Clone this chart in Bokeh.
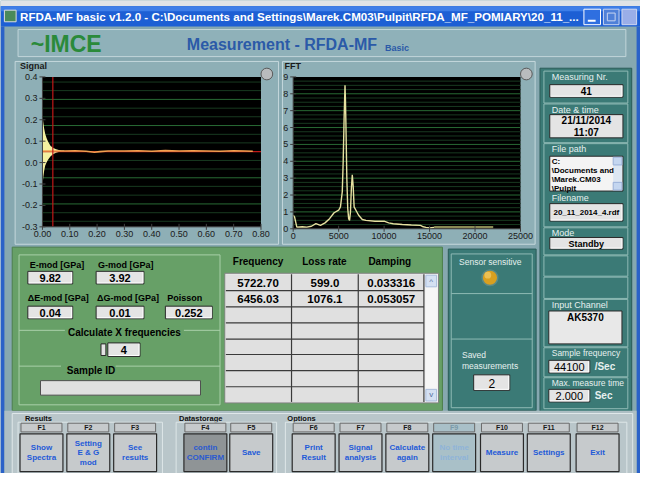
from bokeh.plotting import figure
from bokeh.models import Range1d
from bokeh.embed import file_html
from bokeh.resources import INLINE
from bokeh.core.properties import value

# ---------------- data ----------------
sig_env_t = [0.0, 0.003, 0.006, 0.01, 0.015, 0.02, 0.025, 0.03, 0.04, 0.05, 0.06, 0.07, 0.08]
sig_env_hi = [0.23, 0.19, 0.16, 0.135, 0.115, 0.10, 0.088, 0.078, 0.068, 0.062, 0.059, 0.057, 0.056]
sig_env_lo = [-0.11, -0.07, -0.04, -0.015, 0.0, 0.012, 0.022, 0.030, 0.040, 0.046, 0.049, 0.051, 0.052]
sig_t = [0.0, 0.08, 0.12, 0.16, 0.19, 0.21, 0.24, 0.30, 0.35, 0.40, 0.45, 0.50, 0.55, 0.60, 0.65, 0.70, 0.74, 0.77]
sig_y = [0.054, 0.054, 0.055, 0.053, 0.048, 0.051, 0.054, 0.054, 0.055, 0.053, 0.056, 0.054, 0.055, 0.054, 0.053, 0.055, 0.054, 0.053]
sig_cursor_x = 0.038
sig_cursor_y = 0.051
sig_xticks = [0.0, 0.1, 0.2, 0.3, 0.4, 0.5, 0.6, 0.7, 0.8]
sig_xlabels = ["0.00", "0.10", "0.20", "0.30", "0.40", "0.50", "0.60", "0.70", "0.80"]
sig_yticks = [0.4, 0.3, 0.2, 0.1, 0.0, -0.1, -0.2, -0.3]
sig_ylabels = ["0.4", "0.3", "0.2", "0.1", "0.0", "-0.1", "-0.2", "-0.3"]
sig_grid_major = [0.295, 0.173, -0.071, -0.193]
sig_grid_minor = [0.376, 0.336, 0.254, 0.214, 0.132, 0.092, 0.010, -0.030, -0.111, -0.152, -0.234, -0.274]

fft_f = [0, 150, 400, 1000, 1500, 2000, 2500, 3000, 3500, 4000, 4500, 5000, 5200, 5400, 5500, 5600,
         5700, 5750, 5800, 5900, 6000, 6100, 6200, 6300, 6400, 6500, 6600, 6700, 6900, 7200, 7600,
         8000, 9000, 10000, 10500, 11000, 12000, 13000, 14000, 14300, 14600, 15000, 15500]
fft_a = [0.8, 0.7, 0.1, 0.12, 0.1, 0.15, 0.3, 0.2, 0.35, 0.6, 0.95, 1.1, 1.3, 2.2, 4.0, 6.5,
         8.5, 7.6, 6.2, 3.0, 1.2, 0.6, 0.5, 1.0, 2.4, 3.2, 2.5, 1.3, 1.1, 0.8, 0.55,
         0.5, 0.45, 0.45, 0.35, 0.3, 0.25, 0.22, 0.2, 0.12, 0.08, 0.05, 0.08]
fft_tail_f = [15500, 22000]
fft_tail_a = [0.09, 0.09]
fft_xticks = [0, 5000, 10000, 15000, 20000, 25000]
fft_xlabels = ["0", "5000", "10000", "15000", "20000", "25000"]
fft_yticks = [0, 1, 2, 3, 4, 5, 6, 7, 8, 9]
fft_ylabels = ["0", "1", "2", "3", "4", "5", "6", "7", "8", "9"]
fft_grid_major = [1, 2, 3, 4, 5, 6, 7, 8]
fft_grid_minor = [0.25, 0.5, 0.75, 1.25, 1.5, 1.75, 2.25, 2.5, 2.75, 3.25, 3.5, 3.75, 4.25, 4.5, 4.75,
                  5.25, 5.5, 5.75, 6.25, 6.5, 6.75, 7.25, 7.5, 7.75, 8.25, 8.5, 8.75]

table_headers = ["Frequency", "Loss rate", "Damping"]
table_freq = ["5722.70", "6456.03"]
table_loss = ["599.0", "1076.1"]
table_damp = ["0.033316", "0.053057"]

e_mod, g_mod = "9.82", "3.92"
de_mod, dg_mod, poisson = "0.04", "0.01", "0.252"
calc_freqs = "4"

measuring_nr = "41"
date_str, time_str = "21/11/2014", "11:07"
file_path = ["C:", "\\Documents and", "\\Marek.CM03", "\\Pulpit"]
file_name = "20_11_2014_4.rdf"
mode = "Standby"
input_channel = "AK5370"
sample_freq = "44100"
max_time = "2.000"
saved_meas = "2"

fkey_names = ["F1", "F2", "F3", "F4", "F5", "F6", "F7", "F8", "F9", "F10", "F11", "F12"]
fkey_texts = [["Show", "Spectra"], ["Setting", "E & G", "mod"], ["See", "results"], ["contin", "CONFIRM"],
              ["Save"], ["Print", "Result"], ["Signal", "analysis"], ["Calculate", "again"],
              ["No time", "interval"], ["Measure"], ["Settings"], ["Exit"]]

title_text = r"RFDA-MF basic v1.2.0 - C:\Documents and Settings\Marek.CM03\Pulpit\RFDA_MF_POMIARY\20_11_..."

# ---------------- figure ----------------
W, H = 656, 489
FONT = "Liberation Sans"

p = figure(width=640, height=473, x_range=Range1d(0, W), y_range=Range1d(H, 0),
           output_backend="svg", toolbar_location=None, min_border=0,
           x_axis_location=None, y_axis_location=None, tools="")
p.grid.visible = False
p.outline_line_color = None
BODY = "#86a8b0"
p.background_fill_color = BODY
p.border_fill_color = BODY


def xr(d0, d1, p0, p1):
    s = (d1 - d0) / (p1 - p0)
    st = d0 - p0 * s
    return Range1d(st, st + W * s)


def yr(db, dt, pb, pt):
    s = (dt - db) / (pb - pt)
    return Range1d(db - (H - pb) * s, dt + pt * s)


p.extra_x_ranges = {"sx": xr(0, 0.8, 43, 267), "fx": xr(0, 25000, 300, 533)}
p.extra_y_ranges = {"sy": yr(-0.3, 0.4, 234, 79), "fy": yr(0, 9, 236, 79)}


def box(x0, y0, x1, y1, fill, line=None, lw=1, alpha=1.0):
    p.quad(left=[x0], right=[x1], top=[y0], bottom=[y1], fill_color=fill, fill_alpha=alpha,
           line_color=line, line_width=lw)


def txt(x, y, s, size=10, color="black", bold=False, align="left", baseline="middle", font=FONT, **kw):
    p.text(x=[x], y=[y], text=[s], text_font_size=f"{size}px", text_color=color,
           text_font_style="bold" if bold else "normal", text_align=align,
           text_baseline=baseline, text_font=value(font), **kw)


def vbox(x0, y0, x1, y1, s, size=11, bold=True):
    box(x0, y0, x1, y1, "#e4e4e4", "#2a2a2a", 1)
    p.line(x=[x0 + 1, x1 - 1, x1 - 1], y=[y1 - 1, y1 - 1, y0 + 1], line_color="#ffffff", line_width=1)
    txt((x0 + x1) / 2, (y0 + y1) / 2 + 0.5, s, size=size, bold=bold, align="center")


# ---------------- window chrome ----------------
box(0, 0, W, 6, "#dfe3e6")
box(0, 6, W, 27, "#1d5fd4")
box(0, 6, W, 11, "#3d7ee8")
box(0, 27, 4, H, "#2a62c8")
box(652, 27, W, H, "#2a62c8")
box(4, 10, 16, 22, "#4a8a5a", "#dddddd")
txt(20, 17, title_text, size=11.6, color="white", bold=True)
box(598, 9, 615, 25, "#2f6fe0", "#ffffff")
p.line(x=[602, 610], y=[21, 21], line_color="white", line_width=2)
box(618, 9, 634, 25, "#4f80d8", "#c8d4f0")
box(622, 13, 630, 21, None, "#c8d4f0")
box(637, 9, 652, 25, "#9aaee8", "#d0d8f0")

# header
box(18, 30, 641, 58, "#8fb1b9", "#c2d6da")
txt(31, 45, "~IMCE", size=23, color="#2a8a3a", bold=True)
txt(191, 46, "Measurement - RFDA-MF", size=16, color="#2b5aa8", bold=True)
txt(394, 49, "Basic", size=9, color="#2b5aa8", bold=True)

# ---------------- Signal panel ----------------
box(15, 63, 285, 252, "#8eafb6", "#c5d8dc")
txt(20, 68, "Signal", size=9, bold=True, color="#1a1a1a")
S = dict(x_range_name="sx", y_range_name="sy")
p.quad(left=[0], right=[0.8], bottom=[-0.3], top=[0.4], fill_color="black", line_color=None, **S)
for g in sig_grid_minor:
    p.line(x=[0, 0.8], y=[g, g], line_color="#183a20", line_width=1, **S)
for g in sig_grid_major:
    p.line(x=[0, 0.8], y=[g, g], line_color="#286a34", line_width=1, **S)
p.varea(x=sig_env_t, y1=sig_env_lo, y2=sig_env_hi, fill_color="#f4f0a0", **S)
p.line(x=[0, 0.8], y=[sig_cursor_y, sig_cursor_y], line_color="#c01818", line_width=1.2, **S)
p.line(x=sig_t, y=sig_y, line_color="#f0a050", line_width=1.6, **S)
p.line(x=[sig_cursor_x, sig_cursor_x], y=[-0.3, 0.4], line_color="#c01818", line_width=1.2, **S)
p.line(x=[0, 0], y=[-0.3, 0.4], line_color="#404040", line_width=1, **S)
p.line(x=[0, 0.8], y=[-0.3, -0.3], line_color="#404040", line_width=1, **S)
p.scatter(x=sig_xticks, y=[-0.3] * len(sig_xticks), marker="dash", angle=1.5708, size=6,
          line_color="#404040", **S)
p.scatter(x=[0] * len(sig_yticks), y=sig_yticks, marker="dash", size=6, line_color="#404040", **S)
p.text(x=sig_xticks, y=[-0.3] * len(sig_xticks), text=sig_xlabels, text_font_size="9px",
       text_align="center", text_baseline="top", y_offset=4, text_color="#1a1a1a",
       text_font=value(FONT), **S)
p.text(x=[0] * len(sig_yticks), y=sig_yticks, text=sig_ylabels, text_font_size="9px",
       text_align="right", text_baseline="middle", x_offset=-5, text_color="#1a1a1a",
       text_font=value(FONT), **S)
p.circle(x=[273], y=[76], radius=6, fill_color="#b9bcbe", line_color="#5a5a5a")

# ---------------- FFT panel ----------------
box(289, 63, 548, 252, "#8eafb6", "#c5d8dc")
txt(291, 68, "FFT", size=9, bold=True, color="#1a1a1a")
F = dict(x_range_name="fx", y_range_name="fy")
p.quad(left=[0], right=[25000], bottom=[0], top=[9], fill_color="black", line_color=None, **F)
for g in fft_grid_minor:
    p.line(x=[0, 25000], y=[g, g], line_color="#183a20", line_width=1, **F)
for g in fft_grid_major:
    p.line(x=[0, 25000], y=[g, g], line_color="#286a34", line_width=1, **F)
p.line(x=fft_tail_f, y=fft_tail_a, line_color="#8a8a55", line_width=2.5, **F)
p.line(x=fft_f, y=fft_a, line_color="#e6e0a0", line_width=1.4, **F)
p.line(x=[0, 0], y=[0, 9], line_color="#404040", line_width=1, **F)
p.line(x=[0, 25000], y=[0, 0], line_color="#404040", line_width=1, **F)
p.scatter(x=fft_xticks, y=[0] * len(fft_xticks), marker="dash", angle=1.5708, size=6,
          line_color="#404040", **F)
p.scatter(x=[0] * len(fft_yticks), y=fft_yticks, marker="dash", size=6, line_color="#404040", **F)
p.text(x=fft_xticks, y=[0] * len(fft_xticks), text=fft_xlabels, text_font_size="9px",
       text_align="center", text_baseline="top", y_offset=4, text_color="#1a1a1a",
       text_font=value(FONT), **F)
p.text(x=[0] * len(fft_yticks), y=fft_yticks, text=fft_ylabels, text_font_size="9px",
       text_align="right", text_baseline="middle", x_offset=-5, text_color="#1a1a1a",
       text_font=value(FONT), **F)
p.circle(x=[539], y=[76], radius=6, fill_color="#b9bcbe", line_color="#5a5a5a")

# ---------------- right info panel ----------------
TEAL = "#3b7a76"
LBL = "#e6f0ef"
box(553, 70, 647, 428, TEAL, "#2a5c58")
for (a, b) in [(73, 106), (107, 147), (148, 234), (235, 263), (264, 285), (286, 308), (309, 358),
               (359, 389), (390, 422)]:
    box(557, a, 643, b, None, "#8fbab5", 1)
txt(565, 79, "Measuring Nr.", size=9, color=LBL)
vbox(563, 87, 638, 100, measuring_nr, size=10)
txt(565, 113, "Date & time", size=9, color=LBL)
box(563, 118, 638, 142, "#e4e4e4", "#2a2a2a")
txt(600.5, 124.5, date_str, size=10, bold=True, align="center")
txt(600.5, 136, time_str, size=10, bold=True, align="center")
txt(565, 154, "File path", size=9, color=LBL)
box(563, 161, 638, 197, "#f4f4f4", "#2a2a2a")
box(628, 162, 637, 196, "#dce6f2", None)
box(628, 162, 637, 170, "#c4d6f0", "#9ab0d8")
box(628, 188, 637, 196, "#c4d6f0", "#9ab0d8")
for i, s in enumerate(file_path):
    txt(565, 166 + i * 9.5, s, size=8, bold=True)
txt(565, 204, "Filename", size=9, color=LBL)
vbox(563, 210, 638, 228, file_name, size=8)
txt(565, 240, "Mode", size=9, color=LBL)
vbox(563, 245, 638, 257, mode, size=9)
txt(565, 315, "Input Channel", size=9, color=LBL)
box(562, 321, 637, 355, "#e8e8e8", "#2a2a2a")
txt(599.5, 327.5, input_channel, size=10, bold=True, align="center")
txt(565, 364, "Sample frequency", size=8.5, color=LBL)
vbox(562, 372, 604, 385, sample_freq, size=11, bold=False)
txt(609, 378.5, "/Sec", size=10, color=LBL, bold=True)
txt(565, 395, "Max. measure time", size=8.5, color=LBL)
vbox(562, 402, 604, 415, max_time, size=11, bold=False)
txt(609, 408.5, "Sec", size=10, color=LBL, bold=True)

# ---------------- green results panel ----------------
GREEN = "#67a067"
box(12, 255, 453, 424, GREEN, "#4d7f4d")
box(19, 263, 225, 418, None, "#a9cfa9")
p.line(x=[19, 225], y=[341, 341], line_color="#a9cfa9")
p.line(x=[19, 225], y=[378, 378], line_color="#a9cfa9")
box(66, 337, 188, 348, GREEN, None)
box(62, 375, 118, 382, GREEN, None)
txt(30, 273, "E-mod [GPa]", size=9, bold=True)
txt(100, 273, "G-mod [GPa]", size=9, bold=True)
vbox(28, 280, 74, 293, e_mod, size=11)
vbox(98, 280, 147, 293, g_mod, size=11)
txt(28, 307.5, "\u0394E-mod [GPa]", size=9, bold=True)
txt(99, 307.5, "\u0394G-mod [GPa]", size=9, bold=True)
txt(171, 307.5, "Poisson", size=9, bold=True)
vbox(28, 316, 74, 329, de_mod, size=11)
vbox(98, 316, 147, 329, dg_mod, size=11)
vbox(169, 316, 217, 329, poisson, size=11)
txt(127, 343, "Calculate X frequencies", size=10, bold=True, align="center")
vbox(110, 354, 143, 368, calc_freqs, size=11)
box(103, 355, 108, 367, "#e4e4e4", "#2a2a2a")
txt(68, 382, "Sample ID", size=10, bold=True)
box(41, 393, 205, 408, "#e0e0e0", "#505050")

# table
txt(264, 269.5, table_headers[0], size=10, bold=True, align="center")
txt(332, 269.5, table_headers[1], size=10, bold=True, align="center")
txt(399, 269.5, table_headers[2], size=10, bold=True, align="center")
box(230, 282, 449, 416, "#f2f2f2", "#808080")
box(231, 283, 434, 415, "#e0e0e0", None)
row_edges = [283, 300, 316.7, 333.3, 350, 366, 382.7, 399.3, 415]
for yv in row_edges[1:-1]:
    p.line(x=[231, 434], y=[yv, yv], line_color="#3a3a3a", line_width=1.2)
for xv in [298.3, 366.7, 434]:
    p.line(x=[xv, xv], y=[283, 415], line_color="#3a3a3a", line_width=1.2)
for i in range(len(table_freq)):
    yc = (row_edges[i] + row_edges[i + 1]) / 2 + 0.5
    txt(264, yc, table_freq[i], size=11.5, bold=True, align="center")
    txt(332.5, yc, table_loss[i], size=11.5, bold=True, align="center")
    txt(400.5, yc, table_damp[i], size=11.5, bold=True, align="center")
box(436, 284, 447, 414, "#f6f6f6", None)
box(436, 284, 447, 296, "#d4e0f2", "#a8bcdc")
box(436, 402, 447, 414, "#d4e0f2", "#a8bcdc")
txt(441.5, 290, "^", size=8, color="#5070a0", align="center")
txt(441.5, 407, "v", size=8, color="#5070a0", align="center")

# ---------------- sensor panel ----------------
box(459, 257, 549, 424, TEAL, "#2a5c58")
box(462, 262, 545, 421, None, "#8fbab5")
p.line(x=[462, 545], y=[303, 303], line_color="#8fbab5")
p.line(x=[462, 545], y=[350, 350], line_color="#8fbab5")
txt(502, 270, "Sensor sensitive", size=8.5, color=LBL, align="center")
p.circle(x=[501.7], y=[286.7], radius=8, fill_color="#d8a020", line_color="#5a8a86", line_width=1.5)
p.circle(x=[499.5], y=[284], radius=3.5, fill_color="#f0c860", line_color=None, fill_alpha=0.8)
txt(473, 367, "Saved", size=8.5, color=LBL)
txt(473, 377.5, "measurements", size=8.5, color=LBL)
vbox(485, 387, 522, 403, saved_meas, size=12, bold=False)

# ---------------- function key bar ----------------
box(4, 424, 652, H, "#aebfc4", None)
box(12, 427, 648, H, "#b9c6ca", "#e0e8ea")
txt(25, 432, "Results", size=7.5, bold=True, color="#101010")
txt(183, 432, "Datastorage", size=7.5, bold=True, color="#101010")
txt(294, 432, "Options", size=7.5, bold=True, color="#101010")
box(18, 436, 166, H, None, "#dde6e8")
box(180, 436, 283, H, None, "#dde6e8")
box(292, 436, 642, H, None, "#dde6e8")
fkey_x = [42, 90, 138, 210, 257, 321, 369, 417, 465, 514, 562, 612]
for i, (name, lines) in enumerate(zip(fkey_names, fkey_texts)):
    cx = fkey_x[i]
    if i == 3:
        bfill, tcol = "#8f9496", "#2a5ad0"
    elif i == 8:
        bfill, tcol = "#a9c0c8", "#8fb4d8"
    else:
        bfill, tcol = "#c6cacc", "#1f5ad8"
    box(cx - 21, 437, cx + 21, 446, "#c6cacc" if i != 8 else "#a9c0c8", "#6a6a6a")
    txt(cx, 441.8, name, size=7, bold=True, color="#1a1a1a" if i != 8 else "#7a9aa8", align="center")
    box(cx - 22, 448, cx + 22, 487, bfill, "#2a2a2a", 1.2)
    n = len(lines)
    for j, s in enumerate(lines):
        yy = 467.5 + (j - (n - 1) / 2) * 10
        txt(cx, yy, s, size=8, bold=True, color=tcol, align="center")

open("out.html", "w").write(file_html(p, INLINE))
